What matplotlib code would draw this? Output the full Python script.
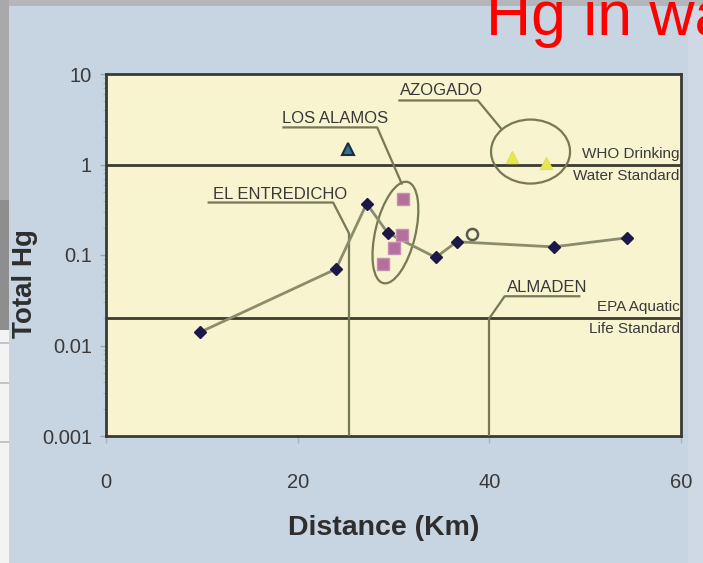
import numpy as np
import matplotlib.pyplot as plt
from matplotlib.patches import Ellipse, Rectangle
from matplotlib.transforms import IdentityTransform, blended_transform_factory

plt.rcParams['font.family'] = ['Liberation Sans', 'DejaVu Sans']

# river profile, total Hg vs distance downstream
dist_river = [9.8, 24.0, 27.2, 29.4, 34.4, 36.6, 46.7, 54.4]
hg_river = [0.014, 0.07, 0.37, 0.175, 0.094, 0.14, 0.123, 0.155]

# other sampling sites
dist_alamos = [31.0, 30.9, 30.0, 28.9]
hg_alamos = [0.42, 0.165, 0.118, 0.079]
dist_azogado = [42.4, 45.9]
hg_azogado = [1.22, 1.05]
dist_open = [38.2]
hg_open = [0.172]
dist_tri = [25.2]
hg_tri = [1.5]

who_std = 1.0
epa_std = 0.02
entredicho_km = 25.4
almaden_km = 40.0

W, H = 703, 563
fig = plt.figure(figsize=(W / 100, H / 100), dpi=100)
fig.patch.set_facecolor('#c7d4e2')


def px_rect(x0, y0, x1, y1, color):
    fig.add_artist(Rectangle((x0 / W, 1 - y1 / H), (x1 - x0) / W, (y1 - y0) / H,
                             transform=fig.transFigure, color=color, lw=0, zorder=0))


# slide edges behind the panel
px_rect(0, 0, W, 6, '#b4b6bb')
px_rect(0, 0, 9, 200, '#a9a9ab')
px_rect(0, 200, 9, 330, '#8e8e8e')
px_rect(0, 330, 9, H, '#f3f3f3')
for yy in [342, 382, 441]:
    px_rect(0, yy, 9, yy + 1.5, '#c4c4c4')
px_rect(688, 6, W, H, '#cfd9e5')

fig.text(486 / W, 1 - 35 / H, 'Hg in water', color='red', fontsize=45, va='baseline')

ax = fig.add_axes([106 / W, 1 - 436 / H, 575 / W, 362 / H])
ax.set_facecolor('#f7f4cf')
ax.set_yscale('log')
ax.set_xlim(0, 60)
ax.set_ylim(0.001, 10)
ax.set_xticks([0, 20, 40, 60])
ax.set_yticks([0.001, 0.01, 0.1, 1, 10])
ax.set_yticklabels(['0.001', '0.01', '0.1', '1', '10'])
for s in ax.spines.values():
    s.set_color('#3a3a34')
    s.set_linewidth(2)
ax.tick_params(axis='y', which='major', direction='out', length=4, width=1, color='#9aa6b4',
               labelsize=14.5, labelcolor='#3a3a3a', pad=6)
ax.tick_params(axis='y', which='minor', direction='out', length=2, width=0.8, color='#a8b2be')
ax.tick_params(axis='x', direction='out', length=5, width=1, color='#a8b2be',
               labelsize=14.5, labelcolor='#3a3a3a', pad=22)

fig.text(384 / W, 1 - 528 / H, 'Distance (Km)', fontsize=20.5, fontweight='bold',
         color='#2e2e2e', ha='center', va='center')
fig.text(25 / W, 1 - 284 / H, 'Total Hg', fontsize=20, fontweight='bold',
         color='#2e2e2e', ha='center', va='center', rotation=90)

# standards
dark = '#3b3b2e'
ax.axhline(who_std, color=dark, lw=2, zorder=2)
ax.axhline(epa_std, color=dark, lw=2, zorder=2)
right = blended_transform_factory(ax.transAxes, ax.transData)
std_kw = dict(transform=right, ha='right', fontsize=11, color='#3a3a3a')
ax.text(0.998, 1.1, 'WHO Drinking', va='bottom', **std_kw)
ax.text(0.998, 0.9, 'Water Standard', va='top', **std_kw)
ax.text(0.998, 0.0221, 'EPA Aquatic', va='bottom', **std_kw)
ax.text(0.998, 0.0183, 'Life Standard', va='top', **std_kw)

# site callouts
olive = '#767857'
lead = dict(color=olive, lw=1.6, zorder=3, solid_capstyle='butt')
lab = dict(fontsize=12, color='#383838', ha='center', va='center', zorder=4)

ax.plot([entredicho_km, entredicho_km], [0.001, 0.17], **lead)
ax.plot([10.6, 23.7, entredicho_km], [0.38, 0.38, 0.17], **lead)
ax.text(18.2, 0.47, 'EL ENTREDICHO', **lab)

ax.plot([almaden_km, almaden_km], [0.001, epa_std], **lead)
ax.plot([almaden_km, 41.6, 49.5], [epa_std, 0.035, 0.035], **lead)
ax.text(46.0, 0.044, 'ALMADEN', **lab)

ax.plot([18.4, 28.3, 30.9], [2.57, 2.57, 0.60], **lead)
ax.text(23.9, 3.25, 'LOS ALAMOS', **lab)

ax.plot([30.5, 38.8, 41.3], [5.1, 5.1, 2.44], **lead)
ax.text(35.0, 6.6, 'AZOGADO', **lab)

# ellipses drawn in pixel space so they stay round on the log axis
for cx, cy, w, h, ang in [(30.2, 0.177, 40, 104, -13.5), (44.3, 1.39, 79, 64, 0)]:
    c = ax.transData.transform((cx, cy))
    ax.add_patch(Ellipse(c, w, h, angle=ang, fill=False, ec=olive, lw=1.6,
                         transform=IdentityTransform(), zorder=3))

# data
ax.plot(dist_river, hg_river, color='#8a8c6c', lw=2, zorder=5)
ax.plot(dist_river, hg_river, 'D', ms=6.5, color='#1c1848', mec='#1c1848', zorder=6)
ax.plot(dist_alamos, hg_alamos, 's', ms=8, color='#b46f9c', mec='#c690b4', zorder=6)
ax.plot(dist_azogado, hg_azogado, '^', ms=9, color='#e8e84a', mec='#e0e066', zorder=6)
ax.plot(dist_tri, hg_tri, '^', ms=9, color='#2f7488', mec='#1e2a40', mew=1.5, zorder=6)
ax.plot(dist_open, hg_open, 'o', ms=8, mfc='#f7f4cf', mec='#5a5a50', mew=1.8, zorder=6)

fig.savefig('out.png', dpi=100, facecolor=fig.get_facecolor())
